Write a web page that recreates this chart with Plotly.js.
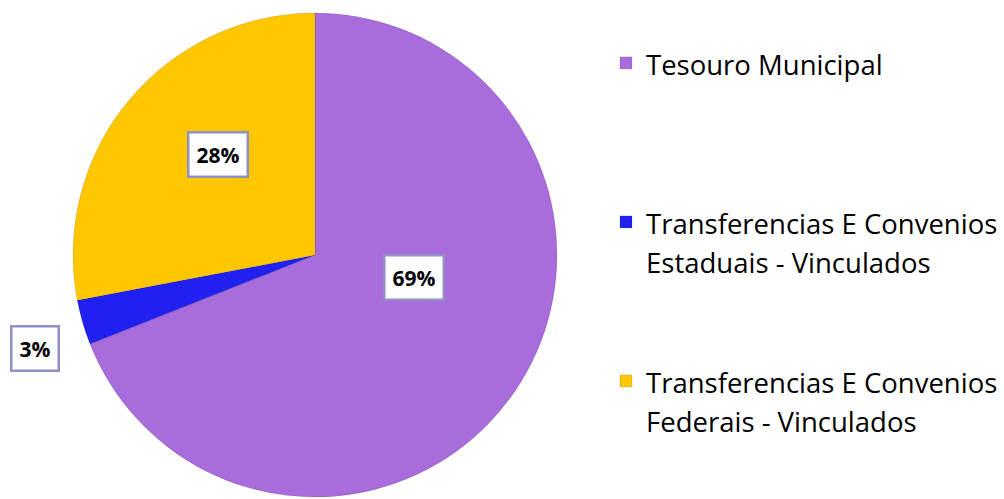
<!DOCTYPE html>
<html>
<head>
<meta charset="utf-8">
<script src="https://cdn.plot.ly/plotly-3.0.1.min.js"></script>
<style>html,body{margin:0;padding:0;background:#fff;}#chart{width:1004px;height:499px;}</style>
</head>
<body>
<div id="chart"></div>
<script>
const categories = ["Tesouro Municipal", "Transferencias E Convenios<br>Estaduais - Vinculados", "Transferencias E Convenios<br>Federais - Vinculados"];
const values = [69, 3, 28];
const colors = ["#A86CDC", "#2020F0", "#FFC700"];
const percentLabels = ["69%", "3%", "28%"];
const labelPos = [[0.412, 0.443], [0.0349, 0.3026], [0.2176, 0.690]];

// legend text drawn a bit smaller than the legend font so lines are spaced like the original
const legendLabels = categories.map((c, idx) => {
  const parts = c.split("<br>").map(p => "<span style='font-size:27.5px'>" + p + "</span>");
  const target = idx === categories.length - 1 ? parts.length : 4;
  while (parts.length < target) parts.push(" ");
  return parts.join("<br>");
});

const trace = {
  type: "pie",
  labels: legendLabels,
  values: values,
  sort: false,
  direction: "clockwise",
  rotation: 0,
  marker: {colors: colors, line: {color: "rgba(0,0,0,0.12)", width: 1}},
  textinfo: "none",
  hoverinfo: "percent",
  domain: {x: [0.0727, 0.5548], y: [0.004, 0.974]}
};

const annotations = percentLabels.map((t, i) => ({
  text: "<b>" + t + "</b>",
  x: labelPos[i][0], y: labelPos[i][1],
  xref: "paper", yref: "paper",
  xanchor: "center", yanchor: "middle",
  showarrow: false,
  font: {family: "Open Sans, sans-serif", size: 21, color: "#000"},
  bgcolor: "#fff",
  bordercolor: "#9090C4",
  borderwidth: 2.5,
  borderpad: 7
}));

const layout = {
  width: 1004, height: 499,
  margin: {l: 0, r: 0, t: 0, b: 0, autoexpand: false},
  paper_bgcolor: "#fff",
  showlegend: true,
  legend: {
    x: 0.6036, y: 0.926, xanchor: "left", yanchor: "top",
    valign: "top",
    font: {family: "Open Sans, sans-serif", size: 30, color: "#000"},
    bgcolor: "rgba(0,0,0,0)"
  },
  annotations: annotations
};

Plotly.newPlot("chart", [trace], layout, {displayModeBar: false, staticPlot: true});
</script>
</body>
</html>
